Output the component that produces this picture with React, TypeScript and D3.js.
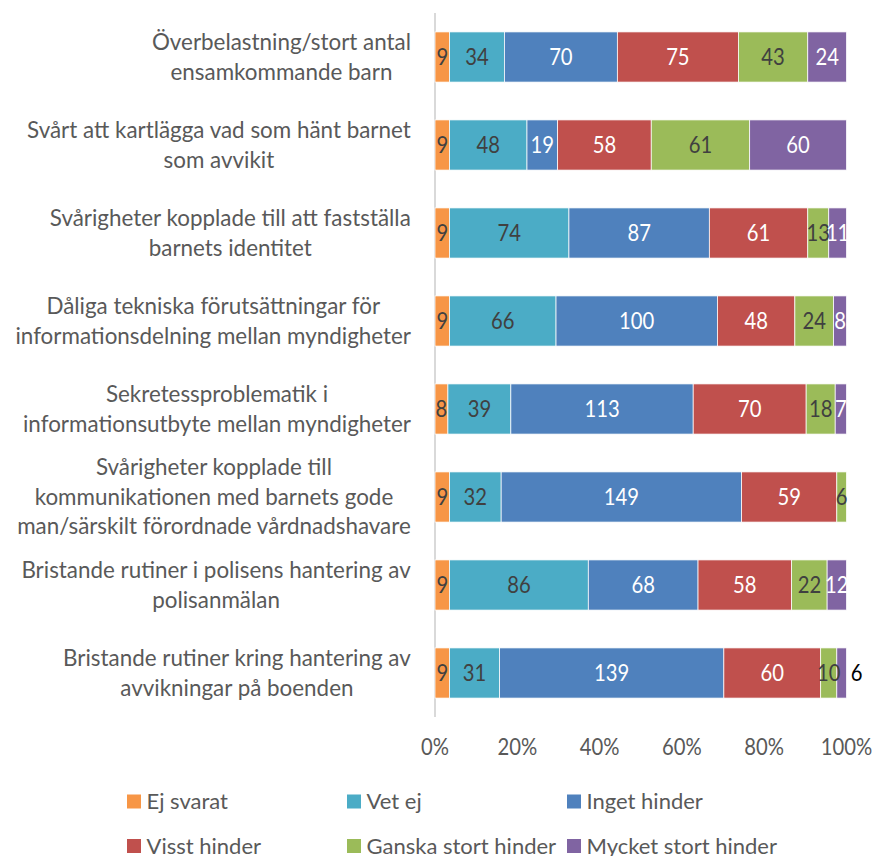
import React from "react";
import * as d3 from "d3";

const categories: string[][] = [
  ["Överbelastning/stort antal", "ensamkommande barn"],
  ["Svårt att kartlägga vad som hänt barnet", "som avvikit"],
  ["Svårigheter kopplade till att fastställa", "barnets identitet"],
  ["Dåliga tekniska förutsättningar för", "informationsdelning mellan myndigheter"],
  ["Sekretessproblematik i", "informationsutbyte mellan myndigheter"],
  ["Svårigheter kopplade till", "kommunikationen med barnets gode", "man/särskilt förordnade vårdnadshavare"],
  ["Bristande rutiner i polisens hantering av", "polisanmälan"],
  ["Bristande rutiner kring hantering av", "avvikningar på boenden"],
];

const seriesNames = ["Ej svarat", "Vet ej", "Inget hinder", "Visst hinder", "Ganska stort hinder", "Mycket stort hinder"];
const ejSvarat = [9, 9, 9, 9, 8, 9, 9, 9];
const vetEj = [34, 48, 74, 66, 39, 32, 86, 31];
const ingetHinder = [70, 19, 87, 100, 113, 149, 68, 139];
const visstHinder = [75, 58, 61, 48, 70, 59, 58, 60];
const ganskaStort = [43, 61, 13, 24, 18, 6, 22, 10];
const mycketStort = [24, 60, 11, 8, 7, 0, 12, 6];
const seriesValues = [ejSvarat, vetEj, ingetHinder, visstHinder, ganskaStort, mycketStort];
const colors = ["#F79646", "#4BACC6", "#4F81BD", "#C0504D", "#9BBB59", "#8064A2"];
const labelColors = ["#404040", "#404040", "#FFFFFF", "#FFFFFF", "#404040", "#FFFFFF"];
const xTicks = [0, 0.2, 0.4, 0.6, 0.8, 1];

const FONT = "Lato, 'Open Sans', sans-serif";
const CAT_FS = 22.4;

function measure(text: string, fs: number): number {
  if (typeof document === "undefined") return text.length * fs * 0.49;
  const c = (measure as any)._c || ((measure as any)._c = document.createElement("canvas"));
  const ctx = c.getContext("2d");
  ctx.font = `${fs}px ${FONT}`;
  return ctx.measureText(text).width;
}

export default function App() {
  const W = 874, H = 856;
  const x0 = 435, x1 = 846.5, top = 13, bottom = 717;
  const x = d3.scaleLinear().domain([0, 1]).range([x0, x1]);
  const y = d3.scaleBand<number>().domain(d3.range(categories.length)).range([top, bottom]).paddingInner(0.43).paddingOuter(0.215);

  const rows = categories.map((_, i) => {
    const vals = seriesValues.map((s) => s[i]);
    const total = d3.sum(vals);
    let acc = 0;
    return vals.map((v, k) => {
      const start = acc / total;
      acc += v;
      return { k, v, start, end: acc / total };
    });
  });

  const labelRight = 411;
  const lineH = 29.5;

  return (
    <svg width={W} height={H} style={{ position: "absolute", left: 0, top: 0, background: "#fff" }} fontFamily={FONT}>
      <rect width={W} height={H} fill="#fff" />
      <line x1={x0} x2={x0} y1={top} y2={bottom} stroke="#D9D9D9" strokeWidth={2} />
      {categories.map((lines, i) => {
        const maxW = d3.max(lines, (l) => measure(l, CAT_FS)) as number;
        const cx = labelRight - maxW / 2;
        const cy = (y(i) as number) + y.bandwidth() / 2;
        const startY = cy - ((lines.length - 1) * lineH) / 2;
        return (
          <text key={i} x={cx} textAnchor="middle" fontSize={CAT_FS} fill="#595959">
            {lines.map((l, j) => (
              <tspan key={j} x={cx} y={startY + j * lineH} dy="0.35em">{l}</tspan>
            ))}
          </text>
        );
      })}
      {rows.map((segs, i) => (
        <g key={i}>
          {segs.filter((s) => s.v > 0).map((s) => (
            <rect key={s.k} x={x(s.start)} y={y(i)} width={x(s.end) - x(s.start)} height={y.bandwidth()}
              fill={colors[s.k]} stroke="#fff" strokeWidth={0.75} />
          ))}
          {segs.filter((s) => s.v > 0).map((s) => {
            const outside = i === 7 && s.k === 5;
            const cx = outside ? x(s.end) + 10 : (x(s.start) + x(s.end)) / 2;
            const cy = (y(i) as number) + y.bandwidth() / 2;
            return (
              <text key={"t" + s.k} transform={`translate(${cx},${cy}) scale(0.88,1)`} dy="0.35em" textAnchor="middle"
                fontSize={23} fill={outside ? "#000" : labelColors[s.k]}>{s.v}</text>
            );
          })}
        </g>
      ))}
      {xTicks.map((t) => (
        <text key={t} transform={`translate(${x(t)},747) scale(0.9,1)`} dy="0.35em" textAnchor="middle" fontSize={22.5} fill="#595959">
          {d3.format(".0%")(t)}
        </text>
      ))}
      {seriesNames.map((n, k) => {
        const col = k % 3;
        const row = k < 3 ? 0 : 1;
        const lx = 127 + col * 220;
        const ly = row === 0 ? 801.5 : 846;
        return (
          <g key={n}>
            <rect x={lx} y={ly - 7} width={14} height={14} fill={colors[k]} />
            <text x={lx + 19.5} y={ly} dy="0.35em" fontSize={22} fill="#595959">{n}</text>
          </g>
        );
      })}
    </svg>
  );
}
